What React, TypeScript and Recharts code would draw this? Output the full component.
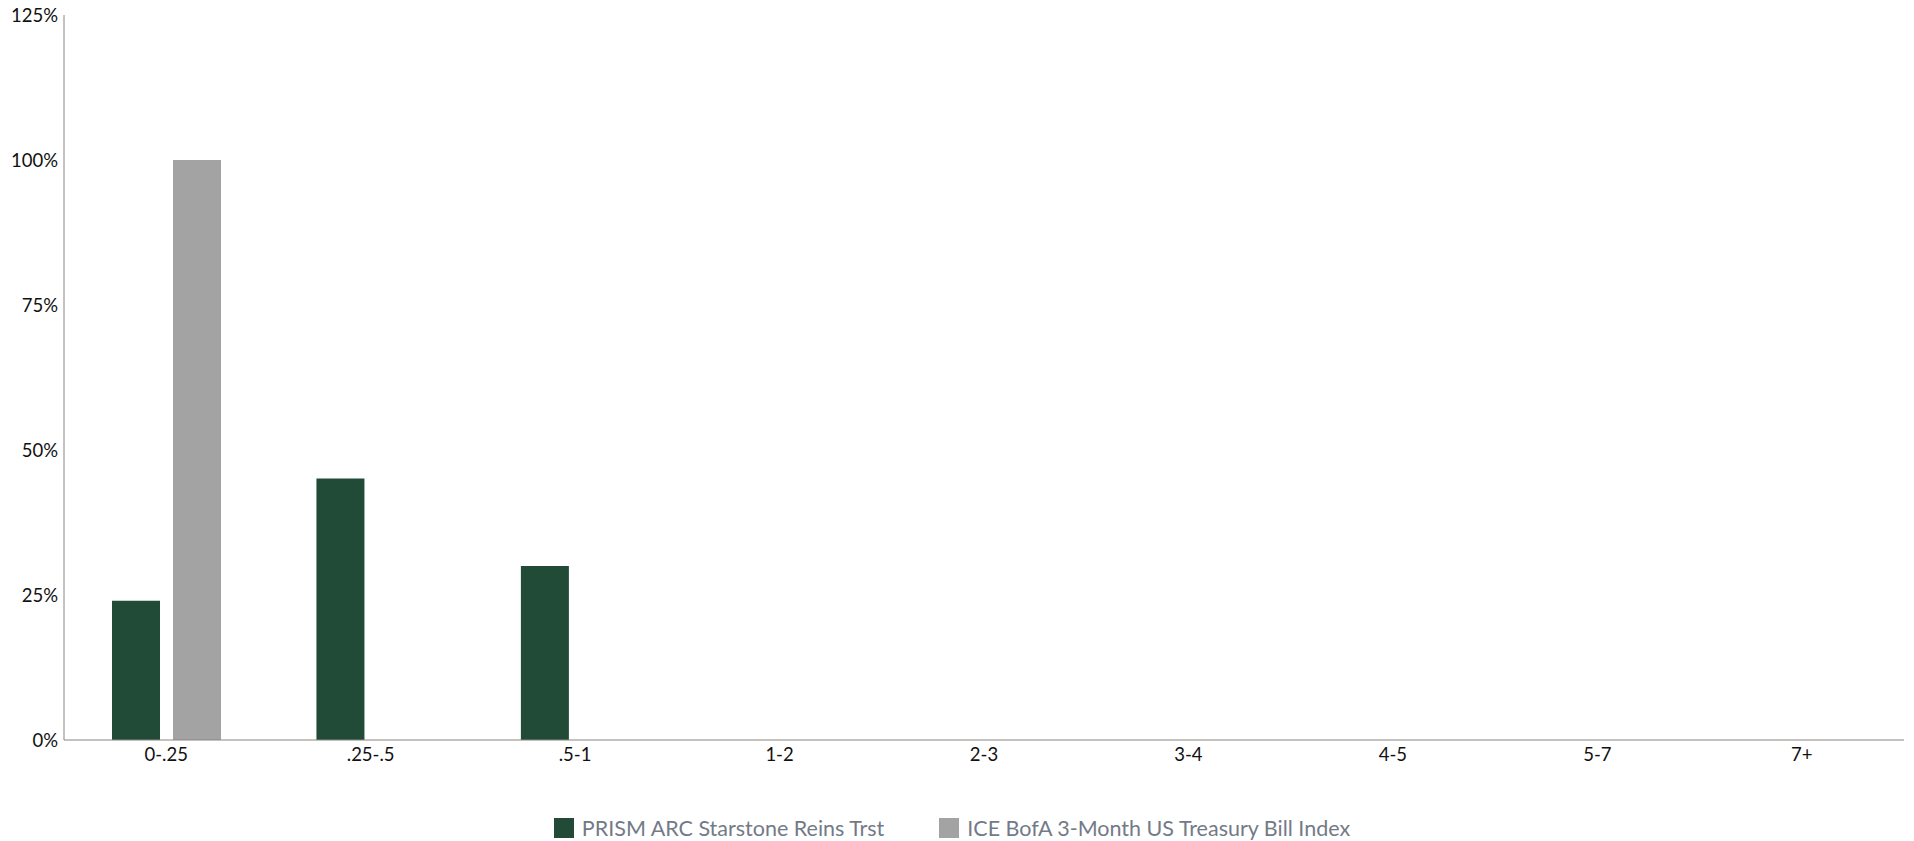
import { BarChart, Bar, XAxis, YAxis, Legend } from 'recharts'

const buckets = ['0-.25', '.25-.5', '.5-1', '1-2', '2-3', '3-4', '4-5', '5-7', '7+']
const prismValues = [24.0, 45.1, 30.0, 0, 0, 0, 0, 0, 0]
const tbillValues = [100, 0, 0, 0, 0, 0, 0, 0, 0]
const yTicks = [0, 25, 50, 75, 100, 125]

const seriesNames = ['PRISM ARC Starstone Reins Trst', 'ICE BofA 3-Month US Treasury Bill Index']
const seriesColors = ['#224b37', '#a3a3a3']

const chartData = buckets.map((bucket, i) => ({
  bucket,
  prism: prismValues[i],
  tbill: tbillValues[i]
}))

const FONT = 'Lato, "Open Sans", sans-serif'

function ChartLegend() {
  return (
    <div
      style={{
        display: 'flex',
        justifyContent: 'center',
        alignItems: 'center',
        gap: 55,
        paddingTop: 15,
        fontFamily: FONT,
        fontSize: 21.5,
        color: '#737a87'
      }}
    >
      {seriesNames.map((name, i) => (
        <div key={name} style={{ display: 'flex', alignItems: 'center', gap: 8 }}>
          <span style={{ width: 20, height: 20, background: seriesColors[i], display: 'inline-block' }} />
          <span>{name}</span>
        </div>
      ))}
    </div>
  )
}

export default function App() {
  return (
    <div style={{ position: 'absolute', left: 0, top: 0, background: '#fff' }}>
      <BarChart
        width={1914}
        height={841}
        data={chartData}
        margin={{ top: 15, right: 10, left: 0, bottom: 0 }}
        barSize={48}
        barGap={13}
      >
        <XAxis
          dataKey="bucket"
          height={60}
          tickLine={false}
          stroke="#8a8580"
          tick={{ fill: '#111', fontSize: 18.5, fontFamily: FONT }}
        />
        <YAxis
          width={64}
          domain={[0, 125]}
          ticks={yTicks}
          tickFormatter={(v) => `${v}%`}
          tickLine={false}
          tickMargin={0}
          stroke="#8a8580"
          tick={{ fill: '#111', fontSize: 18.5, fontFamily: FONT }}
        />
        <Legend verticalAlign="bottom" height={41} content={() => <ChartLegend />} />
        <Bar dataKey="prism" name={seriesNames[0]} fill={seriesColors[0]} isAnimationActive={false} />
        <Bar dataKey="tbill" name={seriesNames[1]} fill={seriesColors[1]} isAnimationActive={false} />
      </BarChart>
    </div>
  )
}
